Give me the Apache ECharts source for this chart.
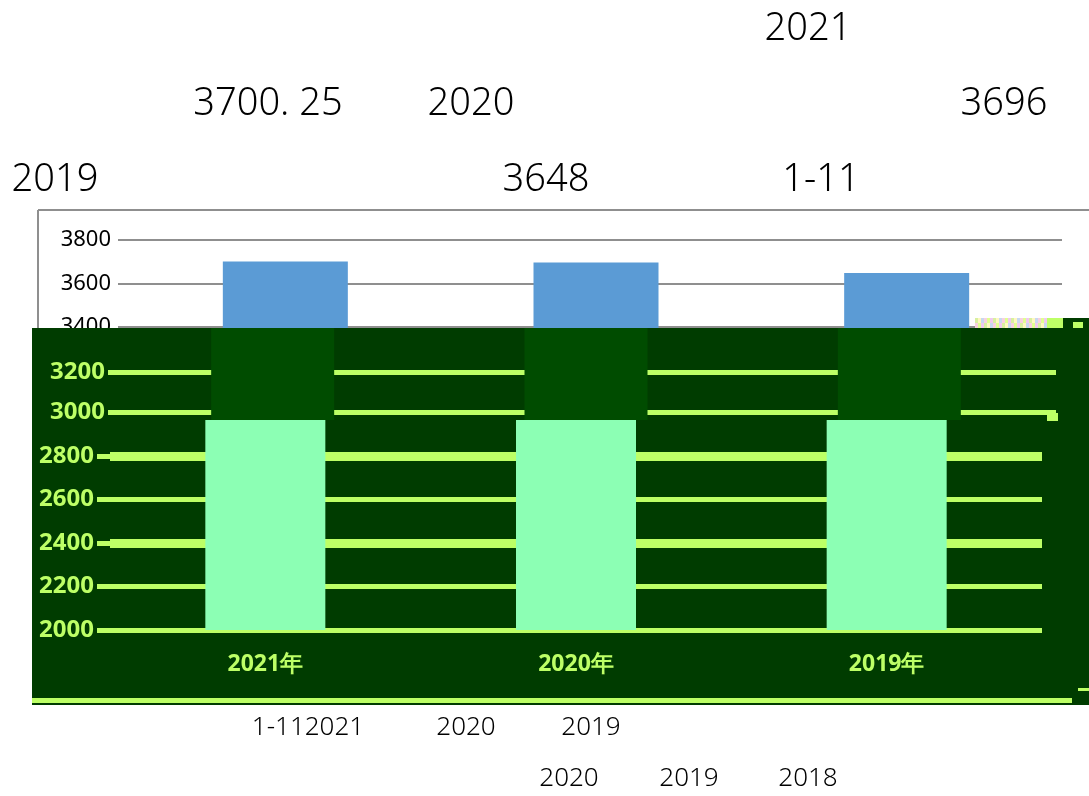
<!DOCTYPE html>
<html><head><meta charset="utf-8">
<style>html,body{margin:0;padding:0;background:#fff}#c{width:1089px;height:796px}</style>
<script src="https://cdn.jsdelivr.net/npm/echarts@6/dist/echarts.min.js"></script>
</head><body><div id="c"></div>
<script>
const categories = ['2021年', '2020年', '2019年'];
const values = [3700.25, 3696, 3648];
const yMin = 2000, yMax = 3800;
const ticksUpper = [3000, 3200];
const ticksLower = [2000, 2200, 2400, 2600, 2800];
const thickLines = [2800, 2400];
const headerTexts = ['2021', '3700. 25', '2020', '3696', '2019', '3648', '1-11'];
const footerTexts = ['1-112021', '2020', '2019', '2020', '2019', '2018'];

const LIME = '#bdff66', DARK = '#003c00', DARKBAR = '#004c00', MINT = '#8cffb4', BLUE = '#5b9bd5', GRAY = '#8f8f8f';
const FONT = '"Noto Sans", sans-serif';
const chart = echarts.init(document.getElementById('c'), null, {renderer: 'canvas'});

const hPos = [[808,29],[268,104],[471,104],[1004,104],[55,180],[546,180],[821,180]];
const fPos = [[308,728],[466,728],[591,728],[569,779],[689,779],[808,779]];
const txt = (s, p, size) => ({type:'text', x:p[0], y:p[1], zlevel:1, style:{text:s, x:0, y:0, fill:'#000', font:`300 ${size}px ${FONT}`, align:'center', verticalAlign:'middle'}});
const rect = (x,y,w,h,fill,zl=1) => ({type:'rect', zlevel:zl, shape:{x,y,width:w,height:h}, style:{fill}});
const line = (x1,y1,x2,y2) => ({type:'line', zlevel:0, z:0, shape:{x1,y1,x2,y2}, style:{stroke:GRAY, lineWidth:2}});
const noiseColors = ['#f0c8f0','#d8f0a0','#fff8c0','#c8d8f0','#f8d0e0','#e0ff90'];
const noise = [];
for (let x = 975; x < 1047; x += 3) {
  noise.push(rect(x,318,3,5,noiseColors[(x/3)%6]));
  noise.push(rect(x,323,3,5,noiseColors[((x/3)+3)%6]));
}

const grids = [
  {left:130, width:932, top:240, height:390, show:false},
  {left:116, width:940, top:328, height:92, show:false},
  {left:110, width:932, top:420, height:210, show:false}
];
const xCommon = {type:'category', data:categories};
const lowerMin = 2000, lowerMax = 2965.5, upperMin = 2960, upperMax = 3420;
const plain = v => String(v);

chart.setOption({
  animation:false,
  backgroundColor:'#fff',
  grid:grids,
  xAxis:[
    {...xCommon, gridIndex:0, axisLine:{show:false}, axisTick:{show:false}, axisLabel:{show:false}},
    {...xCommon, gridIndex:1, zlevel:2, axisLine:{show:false}, axisTick:{show:false}, axisLabel:{show:false}},
    {...xCommon, gridIndex:2, zlevel:2, axisLine:{show:false}, axisTick:{show:false},
      axisLabel:{color:LIME, fontFamily:FONT, fontWeight:'bold', fontSize:23, margin:23}}
  ],
  yAxis:[
    {type:'value', gridIndex:0, min:yMin, max:yMax, interval:200,
      axisLine:{show:false},
      axisTick:{show:true, length:12, lineStyle:{color:GRAY, width:2}},
      axisLabel:{color:'#000', fontFamily:FONT, fontSize:22, margin:19, formatter:plain, padding:[3,0,0,0]},
      splitLine:{lineStyle:{color:GRAY, width:2}}},
    {type:'value', gridIndex:1, zlevel:2, min:upperMin, max:upperMax,
      axisLine:{show:false},
      axisTick:{show:true, length:8, customValues:ticksUpper, lineStyle:{color:LIME, width:5}},
      axisLabel:{customValues:ticksUpper, color:LIME, fontFamily:FONT, fontWeight:'bold', fontSize:24, margin:11, formatter:plain, padding:[3,0,0,0]},
      splitLine:{lineStyle:{color:LIME, width:5}}},
    {type:'value', gridIndex:2, zlevel:2, min:lowerMin, max:lowerMax,
      axisLine:{show:false},
      axisTick:{show:true, length:13, customValues:ticksLower, lineStyle:{color:LIME, width:5}},
      axisLabel:{customValues:ticksLower, color:LIME, fontFamily:FONT, fontWeight:'bold', fontSize:24, margin:16, formatter:plain, padding:[3,0,0,0]},
      splitLine:{lineStyle:{color:LIME, width:5}}}
  ],
  series:[
    {type:'bar', xAxisIndex:0, yAxisIndex:0, data:values, barWidth:125, itemStyle:{color:BLUE}, zlevel:0},
    {type:'bar', xAxisIndex:1, yAxisIndex:1, data:values, barWidth:123, clip:true, itemStyle:{color:DARKBAR}, zlevel:2},
    {type:'bar', xAxisIndex:2, yAxisIndex:2, data:values, barWidth:120, clip:true, itemStyle:{color:MINT}, zlevel:2,
      markLine:{silent:true, symbol:'none', label:{show:false}, zlevel:2, z:1,
        lineStyle:{color:LIME, width:9, type:'solid'},
        data:thickLines.map(v => ({yAxis:v}))}}
  ],
  graphic:[
    line(38,210,1089,210), line(38,210,38,328),
    rect(32,328,1057,377,DARK),
    rect(32,698,1040,5,LIME),
    ...noise,
    rect(1047,318,16,10,LIME), rect(1063,318,26,10,DARK), rect(1073,322,10,6,LIME),
    rect(1047,413,11,8,LIME),
    rect(1078,688,11,3,LIME),
    ...headerTexts.map((s,i) => txt(s, hPos[i], 38)),
    ...footerTexts.map((s,i) => txt(s, fPos[i], 26))
  ]
});
</script></body></html>
